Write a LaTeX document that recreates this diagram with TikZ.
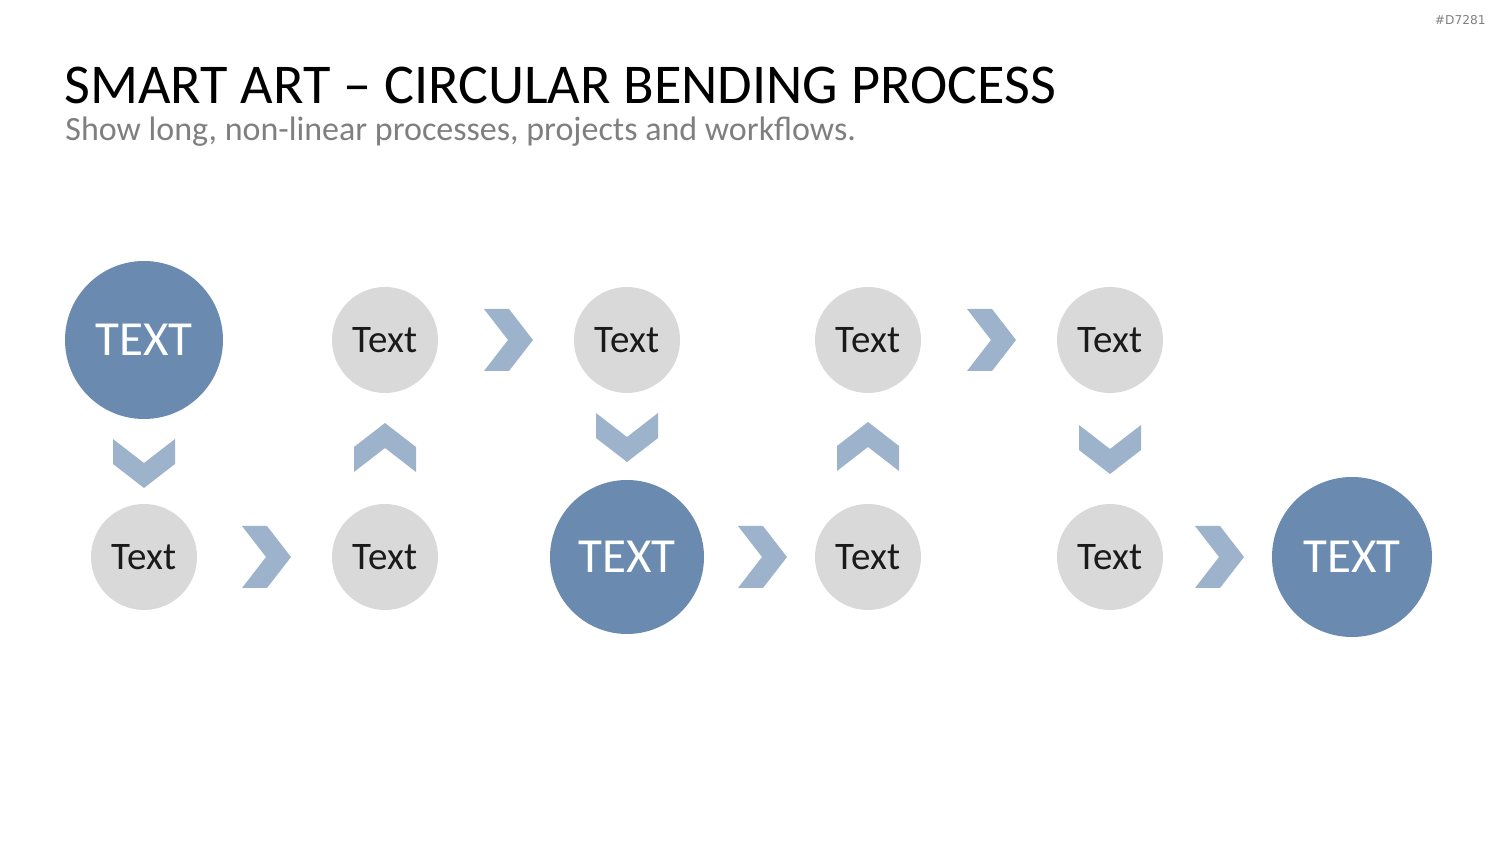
\documentclass[tikz,border=0pt]{standalone}
\usepackage{fontspec}
\setmainfont{Carlito}
\newfontfamily\tagfont{DejaVu Sans}
\usetikzlibrary{positioning}
\definecolor{artdark}{HTML}{6A8BAF}
\definecolor{artgray}{HTML}{D9D9D9}
\definecolor{artchev}{HTML}{9DB3CB}
\definecolor{arttext}{HTML}{1A1A1A}
\definecolor{artsub}{HTML}{7F7F7F}

\begin{document}
\begin{tikzpicture}[
    x=0.5pt, y=-0.5pt,
    keystep/.style={circle, fill=artdark, minimum size=78.5pt, inner sep=0pt,
                 text=white, font=\fontsize{24.5}{24.5}\selectfont},
    plainstep/.style={circle, fill=artgray, minimum size=53pt, inner sep=0pt,
                 text=arttext, font=\fontsize{19.5}{19.5}\selectfont},
    chev/.pic={\fill[artchev] (-24,-31) -- (1,-31) -- (25,0) -- (1,31) -- (-24,31) -- (0,0) -- cycle;},
]
    \useasboundingbox (0,0) rectangle (1500,844);

    % Heading
    \node[anchor=base west, inner sep=0pt, font=\fontsize{28.1}{28.1}\selectfont] (title) at (64,104)
        {SMART ART -- CIRCULAR BENDING PROCESS};
    \node[anchor=base west, inner sep=0pt, text=artsub, font=\fontsize{17}{17}\selectfont] (subtitle) at (65,141)
        {Show long, non-linear processes, projects and workflows.};
    \node[anchor=east, inner sep=0pt, text=artsub, font=\tagfont\fontsize{6.1}{6.1}\selectfont] (tag) at (1486,20) {\#D7281};

    % Top row
    \node[keystep, minimum size=79pt] (t1) at (144,340) {TEXT};
    \node[plainstep] (t2) at (385,340) {Text};
    \node[plainstep] (t3) at (627,340) {Text};
    \node[plainstep] (t4) at (868,340) {Text};
    \node[plainstep] (t5) at (1110,340) {Text};

    % Bottom row
    \node[plainstep] (b1) at (144,557) {Text};
    \node[plainstep] (b2) at (385,557) {Text};
    \node[keystep, minimum size=77pt] (b3) at (627,557) {TEXT};
    \node[plainstep] (b4) at (868,557) {Text};
    \node[plainstep] (b5) at (1110,557) {Text};
    \node[keystep, minimum size=80pt] (b6) at (1352,557) {TEXT};

    % Chevrons
    \pic[rotate=-90] at (144,463) {chev};
    \pic at (266,557) {chev};
    \pic[rotate=90] at (385,448) {chev};
    \pic at (508,340) {chev};
    \pic[rotate=-90] at (627,437) {chev};
    \pic at (762,557) {chev};
    \pic[rotate=90] at (868,447) {chev};
    \pic at (991,340) {chev};
    \pic[rotate=-90] at (1110,449) {chev};
    \pic at (1219,557) {chev};
\end{tikzpicture}
\end{document}
